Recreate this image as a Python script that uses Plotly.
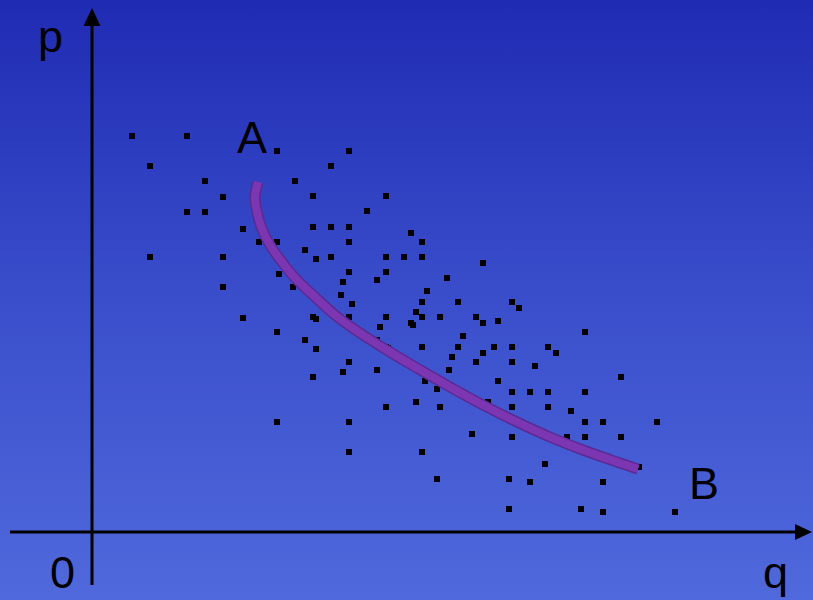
import plotly.graph_objects as go

# Scatter observations (q, p)
dots_q = [4.0, 9.5, 18.5, 25.7, 5.8, 23.9, 11.3, 20.3, 13.1, 22.1, 29.4, 9.5, 11.3, 27.5,
          15.1, 22.1, 23.9, 25.7, 31.9, 16.7, 18.5, 25.7, 33.0, 21.3, 22.4, 23.9, 29.4, 31.2,
          33.0, 5.8, 13.1, 39.1, 18.7, 25.7, 29.4, 25.1, 28.5, 35.5, 20.1, 13.1, 33.5, 24.9,
          33.0, 36.6, 26.0, 32.4, 22.1, 22.4, 25.7, 29.4, 33.0, 34.8, 38.4, 39.1, 40.6, 28.8,
          31.9, 32.1, 18.5, 21.3, 22.4, 28.5, 29.4, 29.6, 33.0, 36.6, 37.1, 39.1, 40.2, 36.0,
          38.4, 25.7, 25.1, 28.5, 22.1, 35.7, 40.6, 34.5, 33.3, 32.4, 34.8, 29.4, 39.6, 18.5,
          25.7, 38.0, 25.7, 33.0, 34.5, 42.0, 42.7, 49.3, 42.0, 45.6, 46.4, 42.0, 44.3, 52.9,
          42.0, 43.8, 45.6, 49.3, 42.0, 45.6, 47.9, 49.3, 51.1, 56.5, 41.7, 42.0, 47.5, 49.3,
          52.9, 45.3, 54.7, 41.7, 43.8, 51.1, 41.7, 48.9, 51.1, 58.3, 15.1]
dots_p = [39.6, 39.6, 38.1, 38.1, 36.6, 36.6, 35.1, 35.1, 33.5, 33.6, 33.6, 32.0, 32.0, 32.1,
          30.3, 30.5, 30.5, 30.5, 29.9, 29.0, 29.0, 29.0, 29.0, 28.2, 27.3, 27.5, 27.5, 27.5,
          27.5, 27.5, 27.5, 26.9, 25.8, 26.0, 26.0, 25.0, 25.2, 25.4, 24.5, 24.5, 24.1, 23.7,
          23.0, 23.0, 22.8, 22.0, 21.5, 21.3, 21.5, 21.5, 21.5, 21.5, 21.5, 20.9, 21.1, 20.5,
          20.9, 20.7, 20.0, 19.2, 18.3, 19.2, 18.5, 18.4, 18.5, 18.5, 19.6, 17.9, 18.5, 17.5,
          17.0, 17.0, 16.0, 16.2, 15.5, 16.2, 15.1, 14.3, 15.1, 13.0, 12.5, 12.5, 13.0, 11.0,
          11.0, 9.8, 8.0, 8.0, 5.3, 23.0, 22.4, 20.0, 18.5, 18.5, 17.9, 17.0, 16.6, 15.5,
          14.0, 14.0, 14.0, 14.0, 12.5, 12.5, 12.1, 11.0, 11.0, 11.0, 11.3, 9.5, 9.5, 9.5,
          9.5, 6.8, 6.5, 5.3, 5.0, 5.0, 2.3, 2.3, 2.0, 2.0, 21.4]

# Demand curve from A to B
curve_q = [16.6, 16.3, 16.5, 17.0, 17.8, 19.0, 20.4, 22.2, 24.3, 26.8, 29.8, 32.5, 35.8,
           39.1, 42.5, 45.8, 49.1, 52.5, 54.6]
curve_p = [35.0, 33.5, 32.0, 30.3, 28.7, 27.0, 25.3, 23.6, 21.7, 19.9, 18.0, 16.4, 14.5,
           12.7, 11.0, 9.5, 8.2, 7.0, 6.3]

labels = ["p", "A", "B", "0", "q"]
label_q = [-4.2, 16.0, 61.2, -3.0, 68.3]
label_p = [49.6, 39.5, 4.9, -4.0, -4.0]

X0, X1 = -9.2, 72.1
Y0, Y1 = -6.8, 53.2

fig = go.Figure()

# gradient background
fig.add_trace(go.Scatter(
    x=[X0, X1, X1, X0, X0], y=[Y0, Y0, Y1, Y1, Y0],
    mode="lines", line=dict(width=0), fill="toself",
    fillgradient=dict(type="vertical",
                      colorscale=[[0, "#5069dc"], [0.5, "#3a4ecb"], [1, "#1f2bb3"]]),
    hoverinfo="skip", showlegend=False))

fig.add_trace(go.Scatter(
    x=dots_q, y=dots_p, mode="markers",
    marker=dict(symbol="square", size=6, color="black", line=dict(width=0)),
    showlegend=False))

fig.add_trace(go.Scatter(
    x=curve_q, y=curve_p, mode="lines",
    line=dict(color="#5a2a92", width=11, shape="spline", smoothing=1.0),
    showlegend=False))
fig.add_trace(go.Scatter(
    x=curve_q, y=curve_p, mode="lines",
    line=dict(color="#7d36b2", width=8, shape="spline", smoothing=1.0),
    showlegend=False))

# axes with arrows
shapes = [
    dict(type="line", x0=0, x1=0, y0=-5.3, y1=51.0, line=dict(color="black", width=3)),
    dict(type="line", x0=-8.2, x1=70.6, y0=0, y1=0, line=dict(color="black", width=3)),
    dict(type="path", path="M -0.85 50.6 L 0 52.4 L 0.85 50.6 Z",
         fillcolor="black", line=dict(color="black", width=0)),
    dict(type="path", path="M 70.3 0.8 L 72.0 0 L 70.3 -0.8 Z",
         fillcolor="black", line=dict(color="black", width=0)),
]

annotations = [dict(x=qx, y=py, text=t, showarrow=False, xref="x", yref="y",
                    font=dict(family="Liberation Sans, Arial", size=45, color="black"))
               for t, qx, py in zip(labels, label_q, label_p)]

fig.update_layout(
    width=813, height=600,
    margin=dict(l=0, r=0, t=0, b=0),
    paper_bgcolor="#3a4ecb", plot_bgcolor="#3a4ecb",
    xaxis=dict(range=[X0, X1], visible=False, fixedrange=True),
    yaxis=dict(range=[Y0, Y1], visible=False, fixedrange=True),
    shapes=shapes, annotations=annotations,
    showlegend=False,
)

fig.write_html("out.html", config={"displayModeBar": False},
               post_script="document.body.style.margin='0';document.body.style.overflow='hidden';")
